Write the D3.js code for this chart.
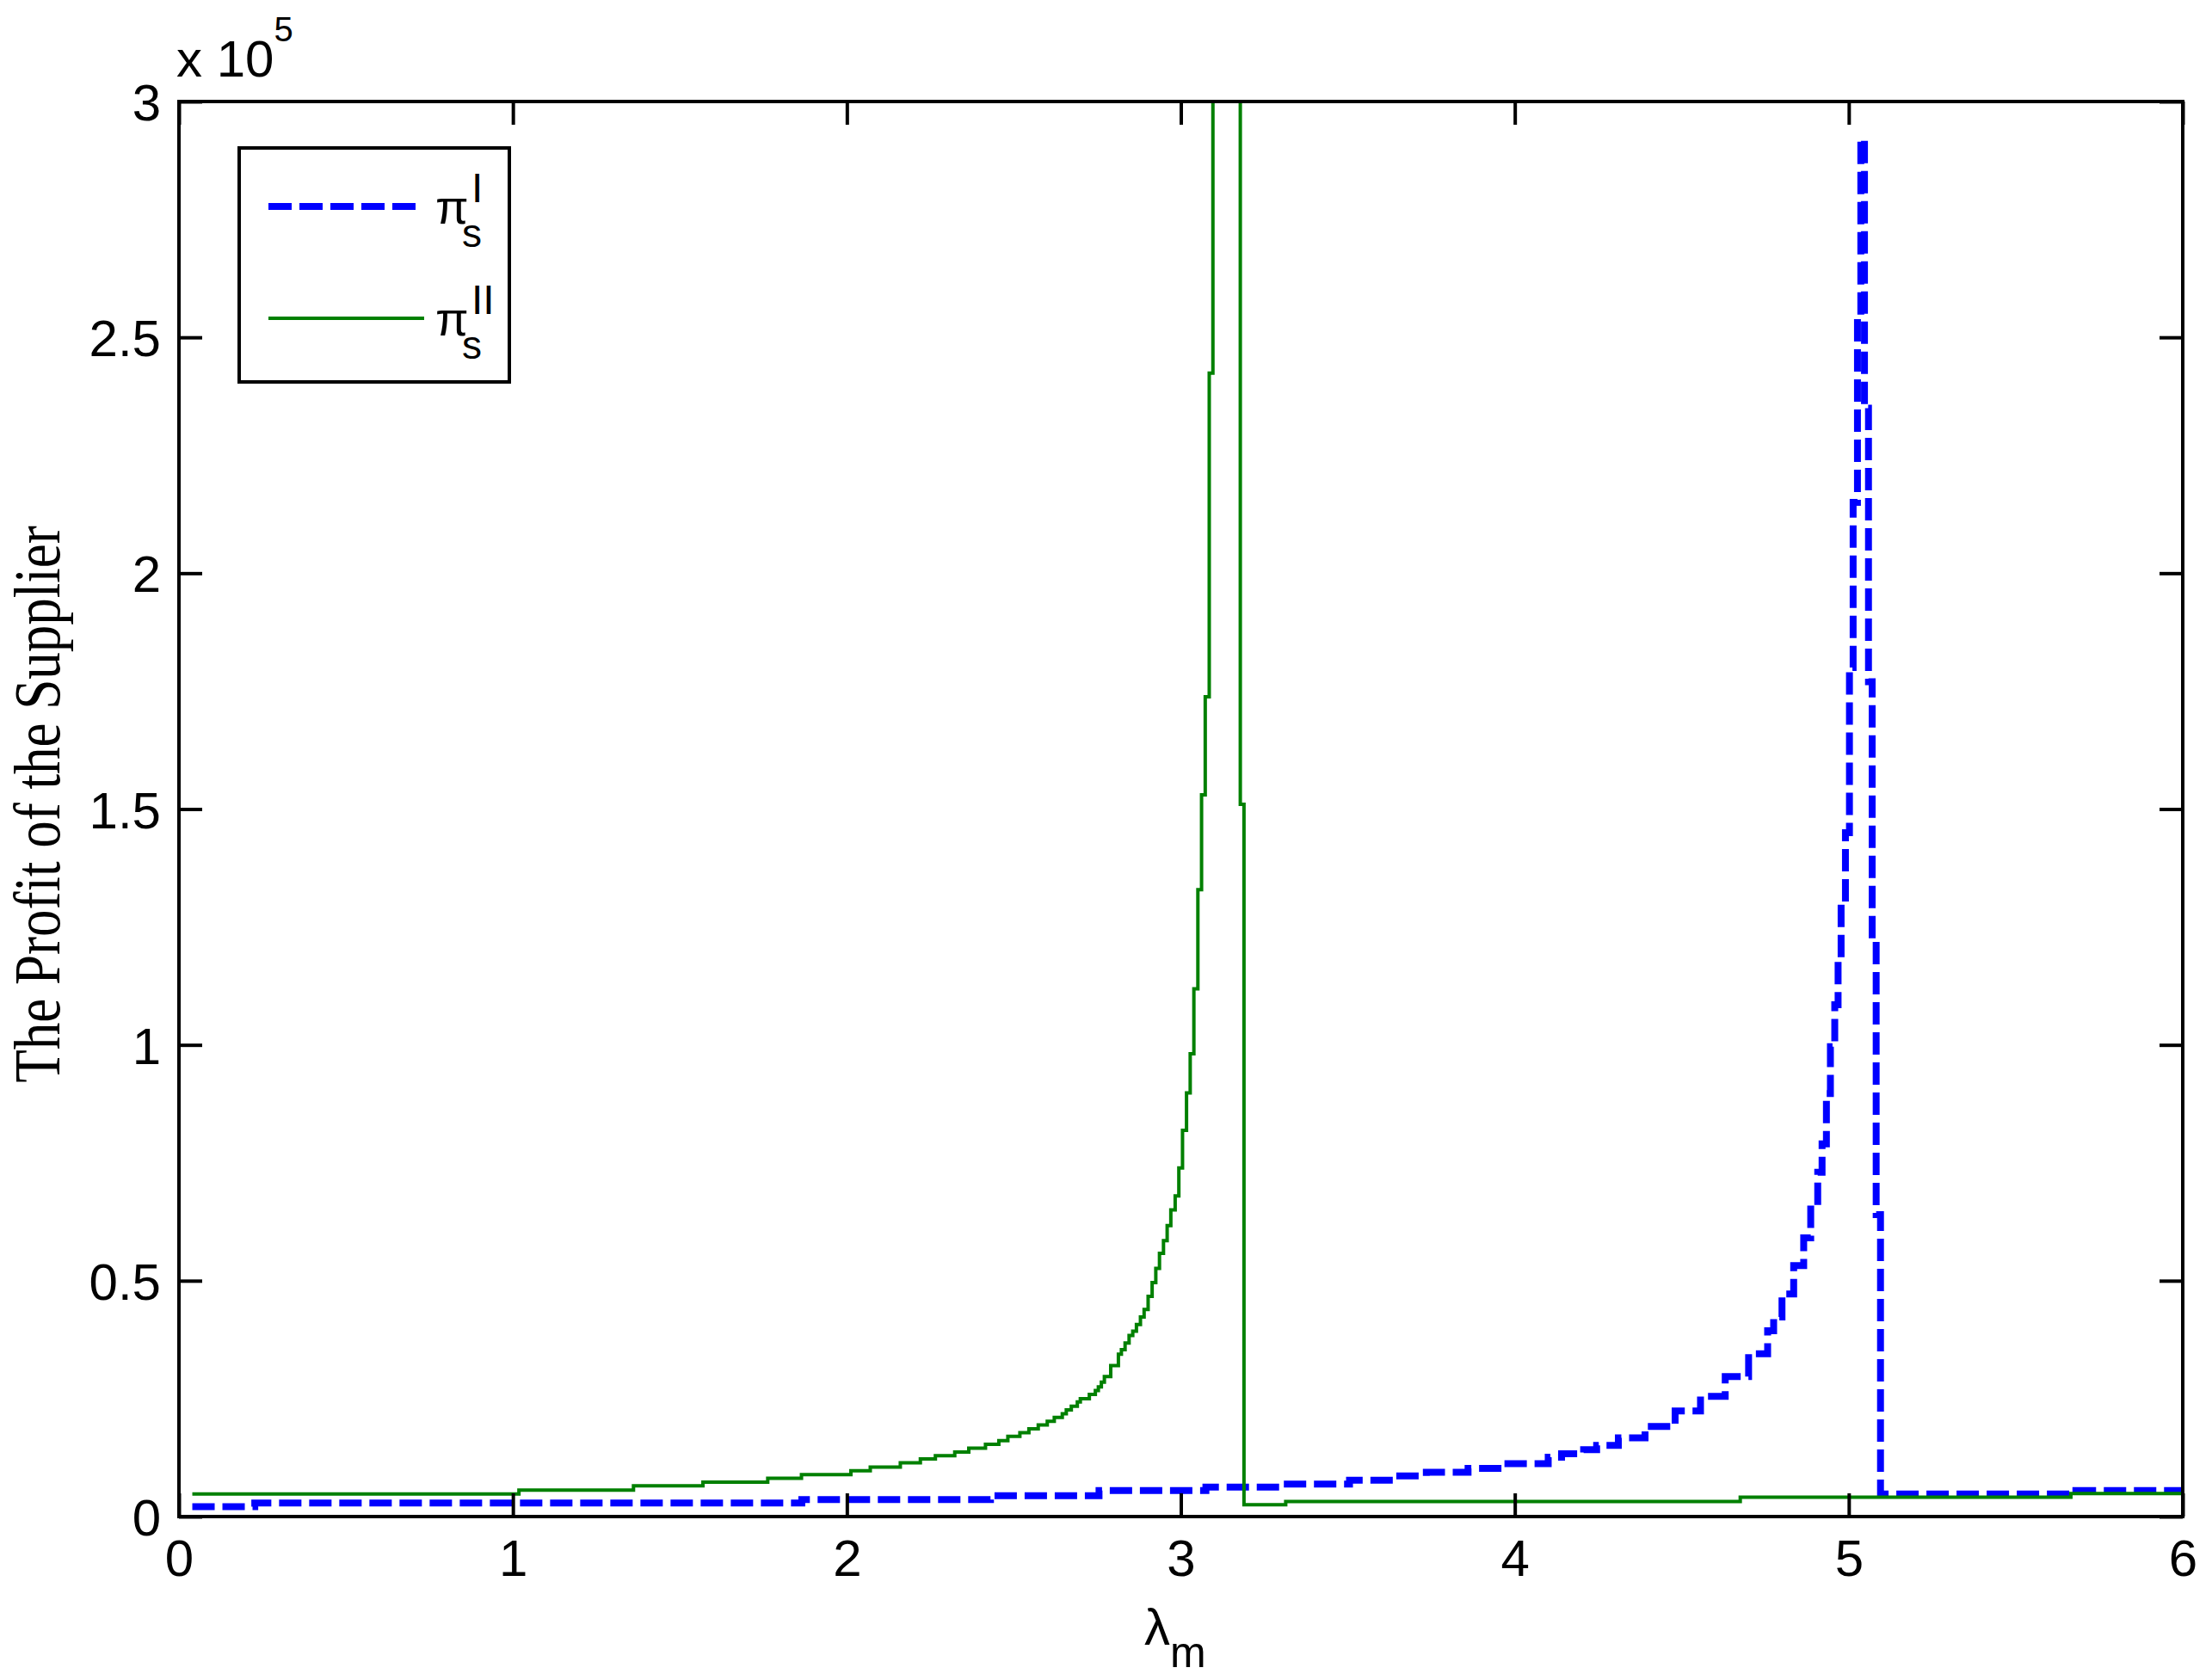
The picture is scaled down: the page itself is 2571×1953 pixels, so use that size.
<!DOCTYPE html>
<html>
<head>
<meta charset="utf-8">
<script src="https://cdn.jsdelivr.net/npm/d3@7"></script>
<style>
  html, body { margin: 0; padding: 0; background: #ffffff; }
  svg { display: block; }
</style>
</head>
<body>
<svg id="chart" width="2571" height="1953"></svg>
<script>
// ---------------- data (y values in units of 10^5) ----------------
const xTicks = [0, 1, 2, 3, 4, 5, 6];
const xTickLabels = ["0", "1", "2", "3", "4", "5", "6"];
const yTicks = [0, 0.5, 1, 1.5, 2, 2.5, 3];
const yTickLabels = ["0", "0.5", "1", "1.5", "2", "2.5", "3"];
const yExponent = "5";

// pi_s^I (blue dashed) — value holds from each x until the next x
const piI_x = [0.04, 0.227, 1.865, 2.43, 2.755, 3.075, 3.30, 3.505, 3.635, 3.735, 3.86, 3.96, 4.10, 4.14, 4.206, 4.245, 4.31, 4.39, 4.48, 4.556, 4.63, 4.70, 4.757, 4.775, 4.80, 4.835, 4.865, 4.886, 4.907, 4.92, 4.933, 4.945, 4.958, 4.968, 4.977, 4.99, 5.002, 5.013, 5.026, 5.036, 5.047, 5.059, 5.07, 5.082, 5.095, 5.68, 6.0];
const piI_y = [0.021, 0.0286, 0.036, 0.044, 0.055, 0.0626, 0.069, 0.077, 0.086, 0.094, 0.102, 0.112, 0.126, 0.133, 0.142, 0.151, 0.167, 0.191, 0.224, 0.255, 0.297, 0.345, 0.394, 0.423, 0.472, 0.532, 0.591, 0.66, 0.73, 0.79, 0.897, 0.996, 1.085, 1.18, 1.30, 1.45, 1.80, 2.15, 2.54, 2.92, 2.35, 1.77, 1.22, 0.64, 0.048, 0.055, 0.055];

// pi_s^II (green solid)
const piII_x = [0.04, 1.018, 1.361, 1.569, 1.763, 1.864, 2.012, 2.07, 2.16, 2.22, 2.265, 2.323, 2.365, 2.415, 2.455, 2.482, 2.518, 2.545, 2.573, 2.60, 2.621, 2.645, 2.657, 2.672, 2.69, 2.699, 2.726, 2.744, 2.753, 2.762, 2.771, 2.79, 2.813, 2.822, 2.833, 2.845, 2.856, 2.867, 2.879, 2.890, 2.902, 2.914, 2.925, 2.936, 2.948, 2.959, 2.970, 2.983, 2.994, 3.005, 3.017, 3.028, 3.039, 3.051, 3.062, 3.073, 3.085, 3.096, 3.178, 3.189, 3.314, 4.675, 5.665, 6.0];
const piII_y = [0.048, 0.056, 0.065, 0.073, 0.081, 0.089, 0.097, 0.105, 0.114, 0.122, 0.129, 0.137, 0.145, 0.153, 0.161, 0.170, 0.178, 0.186, 0.194, 0.202, 0.210, 0.218, 0.226, 0.234, 0.243, 0.250, 0.259, 0.267, 0.275, 0.285, 0.297, 0.32, 0.344, 0.354, 0.368, 0.384, 0.393, 0.407, 0.423, 0.439, 0.467, 0.496, 0.526, 0.558, 0.585, 0.617, 0.650, 0.680, 0.739, 0.819, 0.898, 0.981, 1.119, 1.329, 1.530, 1.738, 2.424, 3.5, 1.51, 0.025, 0.032, 0.041, 0.049, 0.049];

const seriesNames = ["I", "II"];
const yLabelText = "The Profit of the Supplier";

// ---------------- layout ----------------
const W = 2571, H = 1953;
const L = 208, R = 2537, T = 118, B = 1763;
const sansFont = "'Liberation Sans', Arial, Helvetica, sans-serif";
const serifFont = "'Liberation Serif', 'Times New Roman', serif";

const svg = d3.select("#chart");
svg.append("rect").attr("width", W).attr("height", H).attr("fill", "#fff");

const x = d3.scaleLinear().domain([0, 6]).range([L, R]);
const y = d3.scaleLinear().domain([0, 3]).range([B, T]);

// clip
svg.append("clipPath").attr("id", "plotclip")
  .append("rect").attr("x", L).attr("y", T).attr("width", R - L).attr("height", B - T);

// lines
const line = d3.line().x(d => x(d[0])).y(d => y(d[1])).curve(d3.curveStepAfter);
const blueData = piI_x.map((v, i) => [v, piI_y[i]]);
const greenData = piII_x.map((v, i) => [v, piII_y[i]]);

const plotG = svg.append("g").attr("clip-path", "url(#plotclip)");
plotG.append("path").datum(blueData)
  .attr("d", line).attr("fill", "none")
  .attr("stroke", "#0000ff").attr("stroke-width", 8)
  .attr("stroke-dasharray", "26,9");
plotG.append("path").datum(greenData)
  .attr("d", line).attr("fill", "none")
  .attr("stroke", "#008000").attr("stroke-width", 4);

// axes
const tickLen = 27;
const axB = d3.axisBottom(x).tickValues(xTicks).tickFormat((d, i) => xTickLabels[i])
  .tickSizeInner(-tickLen).tickSizeOuter(0).tickPadding(26);
const axT = d3.axisTop(x).tickValues(xTicks).tickFormat("")
  .tickSizeInner(-tickLen).tickSizeOuter(0);
const axL = d3.axisLeft(y).tickValues(yTicks).tickFormat((d, i) => yTickLabels[i])
  .tickSizeInner(-tickLen).tickSizeOuter(0).tickPadding(21);
const axR = d3.axisRight(y).tickValues(yTicks).tickFormat("")
  .tickSizeInner(-tickLen).tickSizeOuter(0);

function style(g) {
  g.select(".domain").remove();
  g.selectAll(".tick line").attr("stroke", "#000").attr("stroke-width", 4);
  g.selectAll(".tick text").attr("fill", "#000")
    .attr("font-family", sansFont).attr("font-size", 60);
}
svg.append("g").attr("transform", `translate(0,${B})`).call(axB).call(style);
svg.append("g").attr("transform", `translate(0,${T})`).call(axT).call(style);
svg.append("g").attr("transform", `translate(${L},0)`).call(axL).call(style)
  .selectAll(".tick text").attr("dy", "0.36em");
svg.append("g").attr("transform", `translate(${R},0)`).call(axR).call(style);

// box
svg.append("rect").attr("x", L).attr("y", T).attr("width", R - L).attr("height", B - T)
  .attr("fill", "none").attr("stroke", "#000").attr("stroke-width", 4);

// exponent label
const expT = svg.append("text").attr("x", 205).attr("y", 89)
  .attr("font-family", sansFont).attr("font-size", 60).attr("fill", "#000");
expT.append("tspan").text("x 10");
expT.append("tspan").attr("font-size", 40).attr("dy", -41).text(yExponent);

// x label
const xl = svg.append("text").attr("x", 1330).attr("y", 1912)
  .attr("font-family", sansFont).attr("font-size", 60).attr("fill", "#000");
xl.append("tspan").text("λ");
xl.append("tspan").attr("font-size", 50).attr("dy", 26).text("m");

// y label
svg.append("text")
  .attr("transform", "translate(69,935) rotate(-90) scale(1,1.2)")
  .attr("text-anchor", "middle")
  .attr("font-family", serifFont).attr("font-size", 63).attr("fill", "#000")
  .text(yLabelText);

// legend
const lg = svg.append("g");
lg.append("rect").attr("x", 278).attr("y", 172).attr("width", 314).attr("height", 272)
  .attr("fill", "#fff").attr("stroke", "#000").attr("stroke-width", 4);
const legendRows = [
  { name: seriesNames[0], color: "#0000ff", width: 8, dash: "27,9", ly: 240, len: 171 },
  { name: seriesNames[1], color: "#008000", width: 4, dash: null, ly: 370, len: 181 }
];
legendRows.forEach(r => {
  lg.append("line").attr("x1", 312).attr("x2", 312 + r.len).attr("y1", r.ly).attr("y2", r.ly)
    .attr("stroke", r.color).attr("stroke-width", r.width)
    .attr("stroke-dasharray", r.dash);
  const t = lg.append("text").attr("x", 506).attr("y", r.ly + 20)
    .attr("font-family", sansFont).attr("font-size", 56).attr("fill", "#000");
  t.append("tspan").text("π");
  t.append("tspan").attr("x", 537).attr("dy", 27).attr("font-size", 46).text("s");
  t.append("tspan").attr("x", 548).attr("dy", -52).attr("font-size", 48).text(r.name);
});
</script>
</body>
</html>
